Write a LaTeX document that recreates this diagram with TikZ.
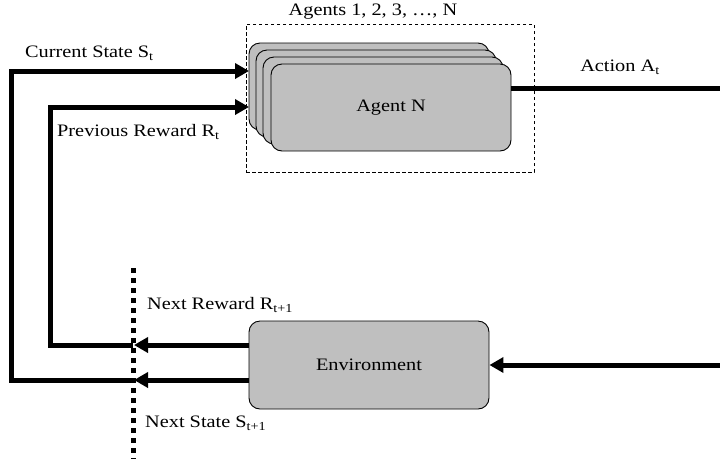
\documentclass[tikz,border=0pt]{standalone}
\usepackage{fontspec}
\setmainfont{Liberation Serif}[FakeStretch=1.16]
\usetikzlibrary{arrows.meta}
\definecolor{boxgray}{RGB}{191,191,191}
\tikzset{
  card/.style={draw=black, line width=0.9pt, fill=boxgray, rounded corners=11pt,
    minimum width=240pt, minimum height=87pt, inner sep=0pt, font=\fontsize{17.5}{21}\selectfont},
  grpbox/.style={draw=black, dash pattern=on 3.5pt off 2.5pt, line width=0.8pt, minimum width=288pt, minimum height=148pt, inner sep=0pt},
  flow/.style={line width=5pt},
  flowarrow/.style={line width=5pt, -{Triangle[length=14pt,width=15pt]}},
  lbl/.style={font=\fontsize{17.5}{21}\selectfont, inner sep=0pt},
  barrier/.style={line width=5pt, dash pattern=on 5pt off 5pt}
}
\begin{document}
\begin{tikzpicture}[x=1pt,y=-1pt]
\useasboundingbox (0,0) rectangle (720,459);
% group box
\node[grpbox] (grp) at (390,98) {};
\node[lbl] (grptitle) at (373,12) {Agents 1, 2, 3, …, N};
% agent cards
\node[card] (a1) at (369,86.5) {};
\node[card] (a2) at (376,93.5) {};
\node[card] (a3) at (383,100.5) {};
\node[card] (a4) at (391,107.5) {Agent N};
% environment
\node[card, minimum height=88pt] (env) at (369,365) {Environment};
% barrier line
\coordinate (bt) at (133,268);
\coordinate (bb) at (133,459);
\draw[barrier] (bt) -- (bb);
% coordinates
\coordinate (actout) at (722,88);
\coordinate (actin) at (722,365);
\coordinate (tipR) at (134,345);
\coordinate (tipS) at (134,380);
\coordinate (bR) at (133,345);
\coordinate (bS) at (133,380);
\coordinate (outerx) at (11.5,0);
\coordinate (innerx) at (50.5,0);
\coordinate (inS) at (249,71);
\coordinate (inR) at (249,107);
% action
\draw[flow] (a4.east |- actout) -- (actout);
\draw[flowarrow] (actin) -- (env.east);
% env outputs
\draw[flowarrow] (env.west |- tipR) -- (tipR);
\draw[flowarrow] (env.west |- tipS) -- (tipS);
% feedback
\draw[flowarrow] (bS) -| (outerx |- inS) -- (inS);
\draw[flowarrow] (bR) -| (innerx |- inR) -- (inR);
% labels
\node[lbl, anchor=west] (lcs) at (25,53) {Current State S\textsubscript{t}};
\node[lbl, anchor=west] (lpr) at (57,132) {Previous Reward R\textsubscript{t}};
\node[lbl] (lact) at (620,67) {Action A\textsubscript{t}};
\node[lbl, anchor=west] (lnr) at (147,305) {Next Reward R\textsubscript{t+1}};
\node[lbl, anchor=west] (lns) at (145,423) {Next State S\textsubscript{t+1}};
\end{tikzpicture}
\end{document}
